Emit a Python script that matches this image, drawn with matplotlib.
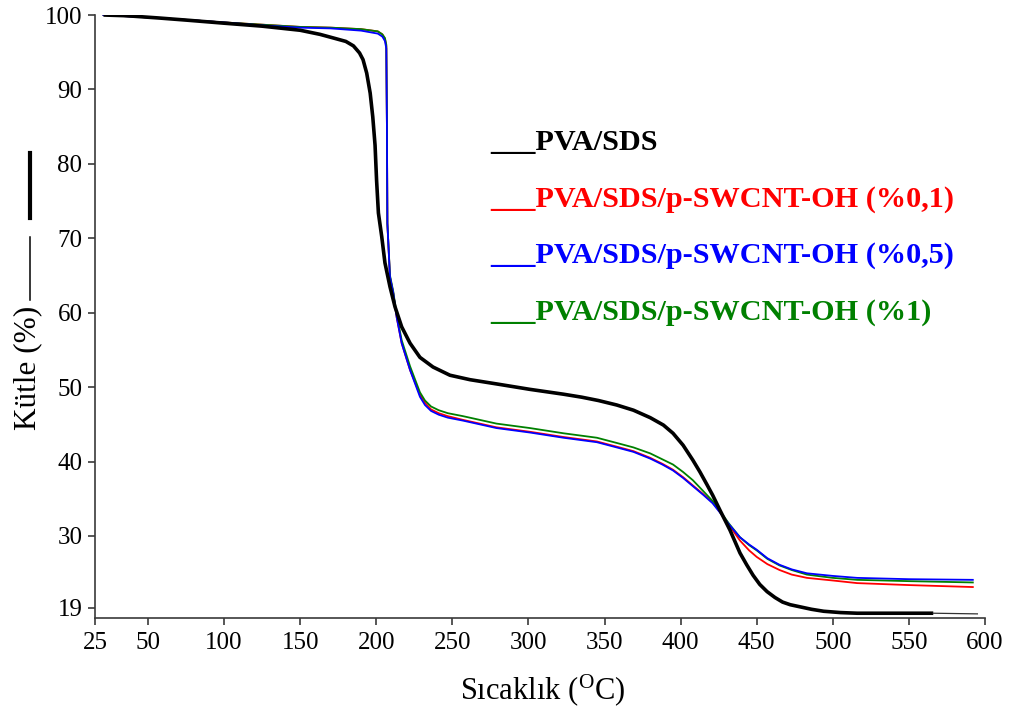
import numpy as np
import matplotlib
matplotlib.use("Agg")
import matplotlib.pyplot as plt
from matplotlib.lines import Line2D

plt.rcParams["font.family"] = ["Liberation Serif", "DejaVu Serif"]
plt.rcParams["mathtext.fontset"] = "custom"
plt.rcParams["mathtext.rm"] = "Liberation Serif"
plt.rcParams["mathtext.it"] = "Liberation Serif:italic"

# --- TGA data: temperature (°C) vs. remaining mass (%) ---
pva_sds_T = [29, 40, 57, 76, 100, 125, 150, 163, 172, 180, 185, 189, 191.3, 193.7, 196,
             197.7, 199.2, 200.2, 201.4, 203.6, 205.7, 209, 212.3, 216.7, 222.2,
             228.7, 237.3, 248.4, 261.6, 280, 301, 323, 335, 346, 358, 369, 380, 388.7,
             395, 401.6, 408, 412.7, 417.3, 421, 426, 432.4, 439, 443.4, 447.6,
             452, 456.8, 462, 467, 472, 478, 486, 494, 505, 516, 540, 566, 595]
pva_sds_m = [100, 99.9, 99.6, 99.3, 98.9, 98.5, 97.95, 97.4, 96.9, 96.45, 95.85, 94.9, 94.0,
             92.2, 89.5, 86.3, 82.5, 77.8, 73.4, 70.2, 66.7, 63.5, 60.8, 58.1, 55.9,
             54.0, 52.7, 51.6, 51.0, 50.4, 49.7, 49.05, 48.65, 48.2, 47.6, 46.9, 45.9, 44.9,
             43.8, 42.2, 40.2, 38.6, 36.9, 35.5, 33.4, 30.8, 27.4, 25.6, 24.0,
             22.6, 21.5, 20.6, 19.9, 19.5, 19.2, 18.8, 18.5, 18.3, 18.2, 18.2, 18.2, 18.1]

cnt_T = [29, 57, 100, 125, 150, 170, 190, 201, 204, 205.7, 206.6, 207.0, 207.3, 209.0,
         211.2, 213.4, 216.7, 222.2, 228.7, 232, 236, 241, 247, 257, 279, 301, 323,
         345, 358, 369, 380, 388, 395, 401.6, 408, 415, 421, 426, 432, 439, 445,
         450, 457, 465, 473, 483, 500, 516, 550, 592]

cnt01_m = [100, 99.6, 99.0, 98.7, 98.4, 98.3, 98.1, 97.8, 97.4, 96.8, 95.8, 85.0, 72.0, 64.8,
           62.6, 59.4, 55.9, 52.3, 49.0, 47.9, 47.0, 46.5, 46.1, 45.6, 44.6, 44.0, 43.3,
           42.7, 42.0, 41.4, 40.5, 39.7, 38.9, 37.9, 36.8, 35.6, 34.5, 33.2, 31.4, 29.3, 27.8,
           26.8, 25.7, 24.8, 24.1, 23.6, 23.2, 22.8, 22.5, 22.2]
cnt05_m = [100, 99.6, 99.0, 98.6, 98.3, 98.2, 97.9, 97.5, 97.1, 96.5, 95.5, 85.0, 72.0, 64.8,
           62.6, 59.4, 55.9, 52.3, 48.7, 47.6, 46.8, 46.3, 45.9, 45.5, 44.5, 43.9, 43.2,
           42.6, 41.9, 41.3, 40.4, 39.6, 38.8, 37.8, 36.7, 35.5, 34.4, 33.1, 31.5, 29.8, 28.7,
           27.9, 26.6, 25.6, 24.9, 24.3, 23.9, 23.6, 23.4, 23.3]
cnt1_m = [100, 99.6, 99.0, 98.7, 98.4, 98.3, 98.1, 97.8, 97.4, 96.9, 96.0, 85.0, 72.0, 65.0,
          62.8, 59.7, 56.3, 52.8, 49.3, 48.2, 47.4, 46.9, 46.5, 46.1, 45.1, 44.5, 43.8,
          43.2, 42.5, 41.9, 41.1, 40.3, 39.6, 38.6, 37.5, 36.0, 34.7, 33.3, 31.6, 29.8, 28.6,
          27.8, 26.5, 25.5, 24.8, 24.1, 23.6, 23.3, 23.1, 22.9]

series_labels = ["PVA/SDS", "PVA/SDS/p-SWCNT-OH (%0,1)",
                 "PVA/SDS/p-SWCNT-OH (%0,5)", "PVA/SDS/p-SWCNT-OH (%1)"]
series_colors = ["black", "#ff0000", "#0000ff", "#008000"]

x_ticks = [25, 50, 100, 150, 200, 250, 300, 350, 400, 450, 500, 550, 600]
y_ticks = [19, 30, 40, 50, 60, 70, 80, 90, 100]


def piecewise_scale(vals, pos):
    vals = np.asarray(vals, float)
    pos = np.asarray(pos, float)
    s_lo = (pos[1] - pos[0]) / (vals[1] - vals[0])
    s_hi = (pos[-1] - pos[-2]) / (vals[-1] - vals[-2])

    def fwd(x):
        x = np.asarray(x, float)
        out = np.interp(x, vals, pos)
        out = np.where(x < vals[0], pos[0] + (x - vals[0]) * s_lo, out)
        out = np.where(x > vals[-1], pos[-1] + (x - vals[-1]) * s_hi, out)
        return out

    def inv(p):
        p = np.asarray(p, float)
        out = np.interp(p, pos, vals)
        out = np.where(p < pos[0], vals[0] + (p - pos[0]) / s_lo, out)
        out = np.where(p > pos[-1], vals[-1] + (p - pos[-1]) / s_hi, out)
        return out

    return fwd, inv


W, H = 1018, 718
fig = plt.figure(figsize=(W / 100, H / 100), dpi=100)
ax = fig.add_axes([95 / W, 1 - 618 / H, 890 / W, 603 / H])

ax.set_xscale("function", functions=piecewise_scale([25, 50, 600], [0, 53, 890]))
ax.set_yscale("function", functions=piecewise_scale([19, 30, 100], [10, 82, 603]))

lw_thin = 1.3
ax.plot(cnt_T, cnt01_m, color=series_colors[1], lw=lw_thin, zorder=2)
ax.plot(cnt_T, cnt1_m, color=series_colors[3], lw=lw_thin, zorder=3)
ax.plot(cnt_T, cnt05_m, color=series_colors[2], lw=lw_thin, zorder=4)
n_thick = sum(t <= 566 for t in pva_sds_T)
ax.plot(pva_sds_T[:n_thick], pva_sds_m[:n_thick], color="black", lw=2.6,
        solid_joinstyle="round", solid_capstyle="butt", zorder=5)
ax.plot(pva_sds_T[n_thick - 1:], pva_sds_m[n_thick - 1:], color="#333333", lw=0.9, zorder=5)

ax.set_xlim(25, 600)
ax.set_ylim(17.47, 100)
ax.set_xticks(x_ticks)
ax.set_xticklabels([str(t) for t in x_ticks])
ax.set_yticks(y_ticks)
ax.set_yticklabels([str(t) for t in y_ticks])
ax.minorticks_off()

for side in ("top", "right"):
    ax.spines[side].set_visible(False)
for side in ("left", "bottom"):
    ax.spines[side].set_color("#3a3a3a")
    ax.spines[side].set_linewidth(1.2)

ax.tick_params(axis="both", direction="out", length=5, width=1.2, color="#3a3a3a",
               labelsize=18, labelcolor="black")
ax.tick_params(axis="x", pad=5)
ax.tick_params(axis="y", pad=4)

fig.text(543 / W, 1 - 690 / H, r"Sıcaklık ($^{\mathrm{O}}$C)", ha="center", va="center",
         fontsize=22)
fig.text(28 / W, 1 - 368 / H, "Kütle (%)", rotation=90, ha="center", va="center",
         fontsize=22.5)

# decorative strokes beside the y label
fig.add_artist(Line2D([30 / W, 30 / W], [1 - 153 / H, 1 - 218 / H],
                      transform=fig.transFigure, color="black", lw=3))
fig.add_artist(Line2D([30 / W, 30 / W], [1 - 237 / H, 1 - 300 / H],
                      transform=fig.transFigure, color="black", lw=1.1))

baselines = [150, 207, 263, 320]
for lab, col, yb in zip(series_labels, series_colors, baselines):
    fig.text(490 / W, 1 - yb / H, "___" + lab, color=col, fontsize=21.8,
             fontweight="bold", ha="left", va="baseline")

fig.savefig("out.png", dpi=100, facecolor="white")
